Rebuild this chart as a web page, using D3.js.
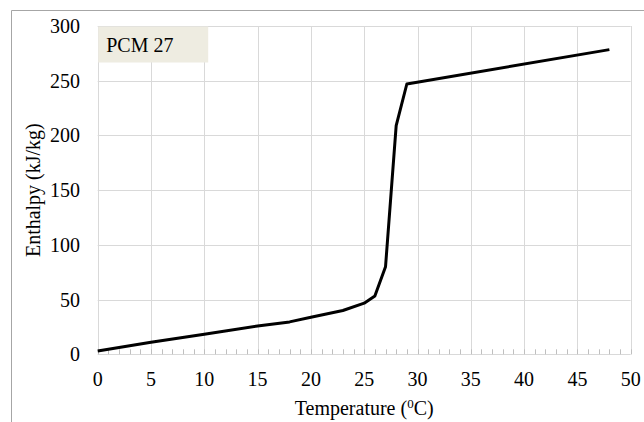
<!DOCTYPE html>
<html>
<head>
<meta charset="utf-8">
<script src="https://cdn.jsdelivr.net/npm/d3@7"></script>
<style>
    body { margin: 0; background: #fff; }
    svg text { font-family: "Liberation Serif", "Times New Roman", serif; fill: #000; }
</style>
</head>
<body>
<div id="chart"></div>
<script>
'use strict';

// chart data
const temperature = [0, 5, 10, 15, 18, 20, 23, 25, 26, 27, 28, 29, 48];
const enthalpy = [3, 11, 18.3, 25.9, 29.6, 33.8, 40, 46.7, 53.3, 80, 209, 247, 278.4];
const xTicks = [0, 5, 10, 15, 20, 25, 30, 35, 40, 45, 50];
const yTicks = [0, 50, 100, 150, 200, 250, 300];
const minorTicks = d3.range(0, 51, 1);
const boxLabel = 'PCM 27';

// size
const width = 644, height = 422;
const margin = { top: 26, right: 13.3, bottom: 67.7, left: 97.7 };

const svg = d3.select('#chart').append('svg')
    .attr('width', width)
    .attr('height', height);

// outer frame (top and left edges only visible)
svg.append('path')
    .attr('d', `M11.5,${height} V10.5 H${width}`)
    .attr('fill', 'none')
    .attr('stroke', '#a6a6a6')
    .attr('stroke-width', 1);

// scales
const x = d3.scaleLinear().domain([0, 50]).range([margin.left, width - margin.right]);
const y = d3.scaleLinear().domain([0, 300]).range([height - margin.bottom, margin.top]);

const g = svg.append('g');

// grid
g.selectAll('line.vgrid')
    .data(xTicks)
    .enter()
    .append('line')
    .attr('class', 'vgrid')
    .attr('x1', d => Math.round(x(d)) + 0.5)
    .attr('x2', d => Math.round(x(d)) + 0.5)
    .attr('y1', y(300))
    .attr('y2', y(0))
    .attr('stroke', '#d9d9d9');

g.selectAll('line.hgrid')
    .data(yTicks)
    .enter()
    .append('line')
    .attr('class', 'hgrid')
    .attr('x1', x(0))
    .attr('x2', x(50))
    .attr('y1', d => Math.round(y(d)) + 0.5)
    .attr('y2', d => Math.round(y(d)) + 0.5)
    .attr('stroke', '#d9d9d9');

// minor ticks on the x axis (inside)
g.selectAll('line.minor')
    .data(minorTicks)
    .enter()
    .append('line')
    .attr('class', 'minor')
    .attr('x1', d => Math.round(x(d)) + 0.5)
    .attr('x2', d => Math.round(x(d)) + 0.5)
    .attr('y1', y(0))
    .attr('y2', y(0) - 5)
    .attr('stroke', '#bfbfbf');

// label box
const box = g.append('g');
box.append('rect')
    .attr('x', x(0) + 0.5)
    .attr('y', y(300) + 0.5)
    .attr('width', 110)
    .attr('height', 36)
    .attr('fill', '#eeece1');
box.append('text')
    .attr('x', x(0) + 8.5)
    .attr('y', y(300) + 25.5)
    .attr('font-size', 20)
    .text(boxLabel);

// tick labels
g.selectAll('text.xtick')
    .data(xTicks)
    .enter()
    .append('text')
    .attr('class', 'xtick')
    .attr('x', d => x(d))
    .attr('y', y(0) + 32)
    .attr('text-anchor', 'middle')
    .attr('font-size', 20)
    .text(d => d);

g.selectAll('text.ytick')
    .data(yTicks)
    .enter()
    .append('text')
    .attr('class', 'ytick')
    .attr('x', 80)
    .attr('y', d => y(d) + 7)
    .attr('text-anchor', 'end')
    .attr('font-size', 20)
    .text(d => d);

// axis titles
const xTitle = g.append('text')
    .attr('x', (x(0) + x(50)) / 2)
    .attr('y', 415)
    .attr('text-anchor', 'middle')
    .attr('font-size', 20);
xTitle.append('tspan').text('Temperature (');
xTitle.append('tspan').attr('font-size', 13).attr('dy', -7).text('0');
xTitle.append('tspan').attr('dy', 7).text('C)');

g.append('text')
    .attr('transform', `translate(40,${(y(0) + y(300)) / 2}) rotate(-90)`)
    .attr('text-anchor', 'middle')
    .attr('font-size', 20)
    .text('Enthalpy (kJ/kg)');

// curve
const line = d3.line()
    .x(d => x(d[0]))
    .y(d => y(d[1]));

g.append('path')
    .datum(d3.zip(temperature, enthalpy))
    .attr('d', line)
    .attr('fill', 'none')
    .attr('stroke', '#000')
    .attr('stroke-width', 3)
    .attr('stroke-linejoin', 'round');
</script>
</body>
</html>
